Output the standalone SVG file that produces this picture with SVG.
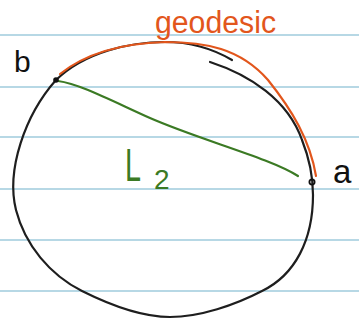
<svg xmlns="http://www.w3.org/2000/svg" width="359" height="323" viewBox="0 0 359 323">
<style>
.rule{stroke:#9fcbdc;stroke-width:1.5}
.ink{fill:none;stroke:#1e1e1e;stroke-width:2.2;stroke-linecap:round;stroke-linejoin:round}
.geo{fill:none;stroke:#e2561c;stroke-width:2.2;stroke-linecap:round}
.chord{fill:none;stroke:#3b7a24;stroke-width:2.2;stroke-linecap:round}
.hand{font-family:"Liberation Sans",Arial,sans-serif}
</style>
<rect width="359" height="323" fill="#ffffff"/>
<g id="paper">
<line class="rule" x1="0" y1="35" x2="359" y2="35"/>
<line class="rule" x1="0" y1="87" x2="359" y2="87"/>
<line class="rule" x1="0" y1="137" x2="359" y2="137"/>
<line class="rule" x1="0" y1="189" x2="359" y2="189"/>
<line class="rule" x1="0" y1="240" x2="359" y2="240"/>
<line class="rule" x1="0" y1="291" x2="359" y2="291"/>
</g>
<g id="circle">
<path class="ink" d="M 56 80 C 85 52, 130 42, 165 42 C 195 42, 215 50, 232 60"/>
<path class="ink" d="M 210 62 C 250 75, 288 100, 302 140 C 310 160, 313 175, 313 195 C 313 240, 295 275, 262 291 C 235 305, 200 317, 170 317 C 140 317, 110 305, 82 291 C 50 275, 25 245, 16 210 C 6 170, 25 115, 56 80"/>
</g>
<g id="connectors">
<path class="geo" d="M 60 74 C 90 50, 130 43, 165 42 C 205 42, 240 48, 268 80 C 292 110, 310 140, 316 176"/>
<path class="chord" d="M 58 81 C 80 84, 110 100, 150 118 C 200 140, 270 158, 298 176"/>
</g>
<g id="node-b">
<circle cx="56" cy="80" r="2.8" fill="#111"/>
<text class="hand" x="14" y="72" font-size="30" fill="#111">b</text>
</g>
<g id="node-a">
<circle cx="312" cy="182" r="2.6" fill="none" stroke="#111" stroke-width="1.8"/>
<text class="hand" x="333" y="183" font-size="33" fill="#111">a</text>
</g>
<g id="label-geodesic">
<text class="hand" x="155" y="33" font-size="31" fill="#e2561c" textLength="121" lengthAdjust="spacingAndGlyphs">geodesic</text>
</g>
<g id="label-L2">
<text class="hand" x="125" y="181" font-size="46" fill="#3b7a24" textLength="16" lengthAdjust="spacingAndGlyphs">L</text>
<text class="hand" x="154" y="189" font-size="28" fill="#3b7a24">2</text>
</g>
</svg>
